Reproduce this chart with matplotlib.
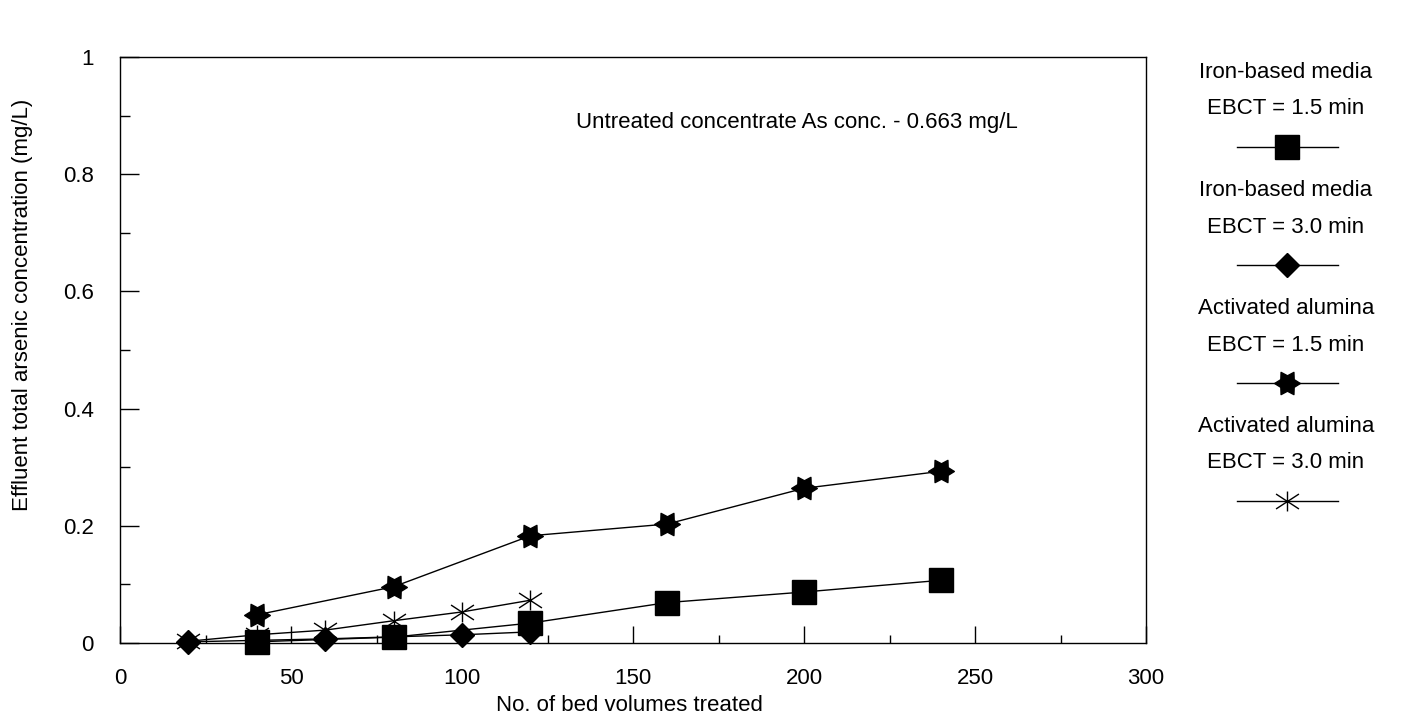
import matplotlib
matplotlib.use("Agg")
import matplotlib.pyplot as plt
import numpy as np
from matplotlib.lines import Line2D
from matplotlib.path import Path

plt.rcParams['font.family'] = ['Liberation Sans', 'DejaVu Sans']
plt.rcParams['font.size'] = 16

# bed volumes vs. effluent As (mg/L)
bv_iron_15 = [40, 80, 120, 160, 200, 240]
as_iron_15 = [0.002, 0.010, 0.034, 0.069, 0.087, 0.107]

bv_iron_30 = [20, 60, 100, 120]
as_iron_30 = [0.002, 0.007, 0.014, 0.019]

bv_aa_15 = [40, 80, 120, 160, 200, 240]
as_aa_15 = [0.048, 0.096, 0.183, 0.203, 0.264, 0.293]

bv_aa_30 = [20, 40, 60, 80, 100, 120]
as_aa_30 = [0.003, 0.014, 0.022, 0.038, 0.053, 0.073]

labels = ["Iron-based media\nEBCT = 1.5 min",
          "Iron-based media\nEBCT = 3.0 min",
          "Activated alumina\nEBCT = 1.5 min",
          "Activated alumina\nEBCT = 3.0 min"]

x_ticks = [0, 50, 100, 150, 200, 250, 300]
y_ticks = [0, 0.2, 0.4, 0.6, 0.8, 1.0]
y_ticklabels = ["0", "0.2", "0.4", "0.6", "0.8", "1"]
note = "Untreated concentrate As conc. - 0.663 mg/L"

# six-pointed star, points to the sides
ang = np.deg2rad(np.arange(12) * 30)
rad = np.where(np.arange(12) % 2 == 0, 1.0, 0.6)
star_verts = np.column_stack([rad * np.cos(ang), rad * np.sin(ang)])
star = Path(np.vstack([star_verts, star_verts[:1]]), closed=True)

# asterisk: vertical stroke plus two flat diagonals
ast = Path([(0, -1), (0, 1), (-1.15, -0.75), (1.15, 0.75), (-1.15, 0.75), (1.15, -0.75)],
           [Path.MOVETO, Path.LINETO] * 3)

styles = [dict(marker='s', ms=17, mfc='k', mec='k'),
          dict(marker='D', ms=12.5, mfc='k', mec='k'),
          dict(marker=star, ms=18.5, mfc='k', mec='k'),
          dict(marker=ast, ms=16.5, mfc='none', mec='k', mew=1)]

fig = plt.figure(figsize=(14.22, 7.25), dpi=100)
ax = fig.add_axes([120 / 1422, 1 - 643 / 725, 1026 / 1422, 586 / 725])

series = [(bv_iron_15, as_iron_15), (bv_iron_30, as_iron_30),
          (bv_aa_15, as_aa_15), (bv_aa_30, as_aa_30)]
for (bx, by), st in zip(series, styles):
    ax.plot(bx, by, color='k', lw=1, clip_on=False, **st)

ax.set_xlim(0, 300)
ax.set_ylim(0, 1)
ax.set_xticks(x_ticks)
ax.set_xticks(np.arange(25, 300, 50), minor=True)
ax.set_yticks(y_ticks)
ax.set_yticklabels(y_ticklabels)
ax.set_yticks(np.arange(0.1, 1.0, 0.2), minor=True)
ax.tick_params(which='both', direction='in', top=False, right=False, width=1, color='k')
ax.tick_params(axis='x', which='major', length=12, pad=18)
ax.tick_params(axis='x', which='minor', length=5.5)
ax.tick_params(axis='y', which='major', length=14, pad=19)
ax.tick_params(axis='y', which='minor', length=7)
for sp in ax.spines.values():
    sp.set_linewidth(1)

ax.set_xlabel("No. of bed volumes treated")
ax.xaxis.set_label_coords(0.497, -0.089)
ax.set_ylabel("Effluent total arsenic concentration (mg/L)")
ax.yaxis.set_label_coords(-0.085, 0.577)

ax.text(198, 0.889, note, ha='center', va='center')

# legend drawn beside the axes: two-line caption above each handle
x0, x1, xc = 1237 / 1422, 1338 / 1422, 1287 / 1422
for i, (lab, st) in enumerate(zip(labels, styles)):
    top = 72 + 118 * i
    fig.text(1286 / 1422, 1 - top / 725, lab.split("\n")[0], ha='center', va='center')
    fig.text(1286 / 1422, 1 - (top + 37) / 725, lab.split("\n")[1], ha='center', va='center')
    yh = 1 - (top + 75) / 725
    fig.add_artist(Line2D([x0, x1], [yh, yh], transform=fig.transFigure, color='k', lw=1))
    fig.add_artist(Line2D([xc], [yh], transform=fig.transFigure, lw=0, **st))

fig.savefig("out.png", dpi=100)
